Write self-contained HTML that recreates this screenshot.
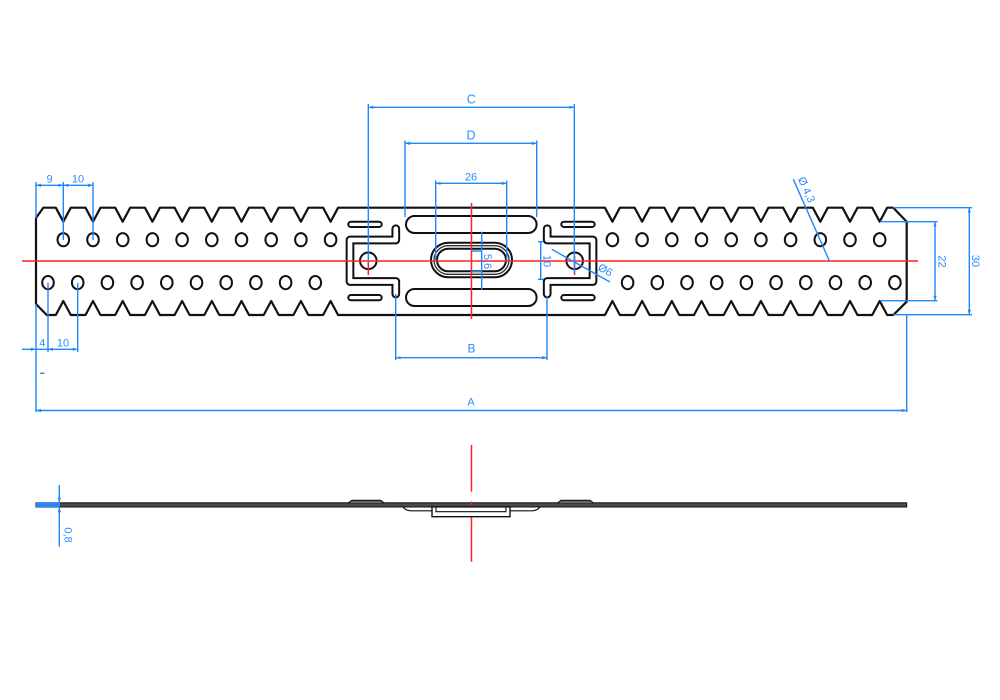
<!DOCTYPE html>
<html><head><meta charset="utf-8">
<style>
html,body{margin:0;padding:0;background:#fff;}
svg{display:block;}
text{font-family:"Liberation Sans",sans-serif;fill:#2b8cff;font-size:11px;}
</style></head>
<body>
<svg width="1000" height="700" viewBox="0 0 1000 700" xmlns="http://www.w3.org/2000/svg">
<defs>
<marker id="ar" viewBox="0 0 6 4" refX="6" refY="2" markerWidth="5" markerHeight="3.4" markerUnits="userSpaceOnUse" orient="auto-start-reverse"><path d="M0,0 L6,2 L0,4 Z" fill="#1e88ff"/></marker>
<g id="lgrp">
<rect x="348.3" y="221.7" width="33.4" height="5.3" rx="2.65" fill="#fff" stroke="#111" stroke-width="2"/>
<rect x="348.3" y="295" width="33.4" height="5.3" rx="2.65" fill="#fff" stroke="#111" stroke-width="2"/>
<path d="M395.8,228.7 L395.8,240 L350,240 L350,281.5 L395.8,281.5 L395.8,294" fill="none" stroke="#111" stroke-width="8.7" stroke-linecap="round" stroke-linejoin="round"/>
<path d="M395.8,228.7 L395.8,240 L350,240 L350,281.5 L395.8,281.5 L395.8,294" fill="none" stroke="#fff" stroke-width="4.7" stroke-linecap="round" stroke-linejoin="round"/>
<circle cx="368.3" cy="260.8" r="8.3" fill="#fff" stroke="#111" stroke-width="2"/>
</g>
</defs>

<path fill="#fff" stroke="#111" stroke-width="2.2" stroke-linejoin="round" d="M36,218 L43.3,207.7 L55.8,207.7 L63.3,221.7 L70.8,207.7 L85.5,207.7 L93,221.7 L100.5,207.7 L115.2,207.7 L122.7,221.7 L130.2,207.7 L144.9,207.7 L152.4,221.7 L159.9,207.7 L174.6,207.7 L182.1,221.7 L189.6,207.7 L204.3,207.7 L211.8,221.7 L219.3,207.7 L234,207.7 L241.5,221.7 L249,207.7 L263.7,207.7 L271.2,221.7 L278.7,207.7 L293.4,207.7 L300.9,221.7 L308.4,207.7 L323.1,207.7 L330.6,221.7 L338.1,207.7 L604.9,207.7 L612.4,221.7 L619.9,207.7 L634.6,207.7 L642.1,221.7 L649.6,207.7 L664.3,207.7 L671.8,221.7 L679.3,207.7 L694,207.7 L701.5,221.7 L709,207.7 L723.7,207.7 L731.2,221.7 L738.7,207.7 L753.4,207.7 L760.9,221.7 L768.4,207.7 L783.1,207.7 L790.6,221.7 L798.1,207.7 L812.8,207.7 L820.3,221.7 L827.8,207.7 L842.5,207.7 L850,221.7 L857.5,207.7 L872.2,207.7 L879.7,221.7 L887.2,207.7 L893.3,207.7 L906.7,221.7 L906.7,301.7 L893.3,315 L887.2,315 L879.7,301 L872.2,315 L857.5,315 L850,301 L842.5,315 L827.8,315 L820.3,301 L812.8,315 L798.1,315 L790.6,301 L783.1,315 L768.4,315 L760.9,301 L753.4,315 L738.7,315 L731.2,301 L723.7,315 L709,315 L701.5,301 L694,315 L679.3,315 L671.8,301 L664.3,315 L649.6,315 L642.1,301 L634.6,315 L619.9,315 L612.4,301 L604.9,315 L338.1,315 L330.6,301 L323.1,315 L308.4,315 L300.9,301 L293.4,315 L278.7,315 L271.2,301 L263.7,315 L249,315 L241.5,301 L234,315 L219.3,315 L211.8,301 L204.3,315 L189.6,315 L182.1,301 L174.6,315 L159.9,315 L152.4,301 L144.9,315 L130.2,315 L122.7,301 L115.2,315 L100.5,315 L93,301 L85.5,315 L70.8,315 L63.3,301 L55.8,315 L46.7,315 L36,304 Z"/>

<g fill="#fff" stroke="#111" stroke-width="2">
<ellipse cx="63.3" cy="239.7" rx="5.8" ry="6.6"/>
<ellipse cx="93" cy="239.7" rx="5.8" ry="6.6"/>
<ellipse cx="122.7" cy="239.7" rx="5.8" ry="6.6"/>
<ellipse cx="152.4" cy="239.7" rx="5.8" ry="6.6"/>
<ellipse cx="182.1" cy="239.7" rx="5.8" ry="6.6"/>
<ellipse cx="211.8" cy="239.7" rx="5.8" ry="6.6"/>
<ellipse cx="241.5" cy="239.7" rx="5.8" ry="6.6"/>
<ellipse cx="271.2" cy="239.7" rx="5.8" ry="6.6"/>
<ellipse cx="300.9" cy="239.7" rx="5.8" ry="6.6"/>
<ellipse cx="330.6" cy="239.7" rx="5.8" ry="6.6"/>
<ellipse cx="612.4" cy="239.7" rx="5.8" ry="6.6"/>
<ellipse cx="642.1" cy="239.7" rx="5.8" ry="6.6"/>
<ellipse cx="671.8" cy="239.7" rx="5.8" ry="6.6"/>
<ellipse cx="701.5" cy="239.7" rx="5.8" ry="6.6"/>
<ellipse cx="731.2" cy="239.7" rx="5.8" ry="6.6"/>
<ellipse cx="760.9" cy="239.7" rx="5.8" ry="6.6"/>
<ellipse cx="790.6" cy="239.7" rx="5.8" ry="6.6"/>
<ellipse cx="820.3" cy="239.7" rx="5.8" ry="6.6"/>
<ellipse cx="850" cy="239.7" rx="5.8" ry="6.6"/>
<ellipse cx="879.7" cy="239.7" rx="5.8" ry="6.6"/>
<ellipse cx="48" cy="282.6" rx="5.8" ry="6.6"/>
<ellipse cx="77.7" cy="282.6" rx="5.8" ry="6.6"/>
<ellipse cx="107.4" cy="282.6" rx="5.8" ry="6.6"/>
<ellipse cx="137.1" cy="282.6" rx="5.8" ry="6.6"/>
<ellipse cx="166.8" cy="282.6" rx="5.8" ry="6.6"/>
<ellipse cx="196.5" cy="282.6" rx="5.8" ry="6.6"/>
<ellipse cx="226.2" cy="282.6" rx="5.8" ry="6.6"/>
<ellipse cx="255.9" cy="282.6" rx="5.8" ry="6.6"/>
<ellipse cx="285.6" cy="282.6" rx="5.8" ry="6.6"/>
<ellipse cx="315.3" cy="282.6" rx="5.8" ry="6.6"/>
<ellipse cx="627.6" cy="282.6" rx="5.8" ry="6.6"/>
<ellipse cx="657.3" cy="282.6" rx="5.8" ry="6.6"/>
<ellipse cx="687" cy="282.6" rx="5.8" ry="6.6"/>
<ellipse cx="716.7" cy="282.6" rx="5.8" ry="6.6"/>
<ellipse cx="746.4" cy="282.6" rx="5.8" ry="6.6"/>
<ellipse cx="776.1" cy="282.6" rx="5.8" ry="6.6"/>
<ellipse cx="805.8" cy="282.6" rx="5.8" ry="6.6"/>
<ellipse cx="835.5" cy="282.6" rx="5.8" ry="6.6"/>
<ellipse cx="865.2" cy="282.6" rx="5.8" ry="6.6"/>
<ellipse cx="894.9" cy="282.6" rx="5.8" ry="6.6"/>
</g>

<use href="#lgrp"/>
<g transform="translate(943,0) scale(-1,1)"><use href="#lgrp"/></g>
<g fill="#fff" stroke="#111" stroke-width="2">
<rect x="406" y="216" width="130.6" height="17" rx="8.5"/>
<rect x="406" y="289" width="130.6" height="17" rx="8.5"/>
<rect x="431" y="242.7" width="81" height="34.6" rx="17.3"/>
<rect x="434" y="245.7" width="75" height="28.6" rx="14.3" stroke-width="1.3" stroke="#333"/>
<rect x="437" y="248.7" width="69" height="22.6" rx="11.3"/>
</g>

<g stroke="#ff2020" stroke-width="1.5">
<line x1="22" y1="261" x2="918" y2="261"/>
<line x1="471.5" y1="203" x2="471.5" y2="319"/>
<line x1="368.3" y1="261" x2="368.3" y2="275"/>
<line x1="574.6" y1="256" x2="574.6" y2="275"/>
<line x1="471.5" y1="445" x2="471.5" y2="491.7"/>
<line x1="471.5" y1="515" x2="471.5" y2="561.7"/>
</g>

<g stroke="#1e88ff" stroke-width="1.4" fill="none">
<line x1="36" y1="182" x2="36" y2="218"/>
<line x1="63.3" y1="182" x2="63.3" y2="240"/>
<line x1="93" y1="182" x2="93" y2="240"/>
<line x1="36" y1="185.3" x2="63.3" y2="185.3" marker-start="url(#ar)" marker-end="url(#ar)"/>
<line x1="63.3" y1="185.3" x2="93" y2="185.3" marker-start="url(#ar)" marker-end="url(#ar)"/>
<line x1="36" y1="304" x2="36" y2="412"/>
<line x1="48" y1="283" x2="48" y2="352"/>
<line x1="77.7" y1="283" x2="77.7" y2="352"/>
<line x1="22" y1="349.3" x2="36" y2="349.3" marker-end="url(#ar)"/>
<line x1="36" y1="349.3" x2="48" y2="349.3"/>
<line x1="48" y1="349.3" x2="77.7" y2="349.3" marker-start="url(#ar)" marker-end="url(#ar)"/>
<line x1="40" y1="373.3" x2="44.5" y2="373.3"/>
<line x1="36" y1="410.5" x2="906.7" y2="410.5" marker-start="url(#ar)" marker-end="url(#ar)"/>
<line x1="906.7" y1="315" x2="906.7" y2="412"/>
<line x1="368.3" y1="104" x2="368.3" y2="262"/>
<line x1="574.3" y1="104" x2="574.3" y2="273"/>
<line x1="368.3" y1="107.3" x2="574.3" y2="107.3" marker-start="url(#ar)" marker-end="url(#ar)"/>
<line x1="405" y1="140.5" x2="405" y2="217"/>
<line x1="536.7" y1="140.5" x2="536.7" y2="217"/>
<line x1="405" y1="143.3" x2="536.7" y2="143.3" marker-start="url(#ar)" marker-end="url(#ar)"/>
<line x1="435.7" y1="180.5" x2="435.7" y2="261"/>
<line x1="506.7" y1="180.5" x2="506.7" y2="261"/>
<line x1="435.7" y1="183.3" x2="506.7" y2="183.3" marker-start="url(#ar)" marker-end="url(#ar)"/>
<line x1="395.7" y1="294" x2="395.7" y2="360"/>
<line x1="547" y1="296" x2="547" y2="360"/>
<line x1="395.7" y1="357.7" x2="547" y2="357.7" marker-start="url(#ar)" marker-end="url(#ar)"/>
<line x1="481.7" y1="231.7" x2="481.7" y2="290"/>
<line x1="471.5" y1="251" x2="481.7" y2="251"/>
<line x1="471.5" y1="271.5" x2="481.7" y2="271.5"/>
<line x1="540.7" y1="241.7" x2="540.7" y2="279.3"/>
<line x1="538" y1="241.7" x2="543.5" y2="241.7"/>
<line x1="538" y1="279.3" x2="543.5" y2="279.3"/>
<line x1="551.7" y1="249.3" x2="610" y2="282"/>
<line x1="793.3" y1="179.3" x2="829.3" y2="260.7"/>
<line x1="880" y1="221.7" x2="937.5" y2="221.7"/>
<line x1="880" y1="300.7" x2="937.5" y2="300.7"/>
<line x1="935" y1="221.7" x2="935" y2="300.7" marker-start="url(#ar)" marker-end="url(#ar)"/>
<line x1="893" y1="207.7" x2="972" y2="207.7"/>
<line x1="893" y1="314.7" x2="972" y2="314.7"/>
<line x1="969.3" y1="207.7" x2="969.3" y2="314.7" marker-start="url(#ar)" marker-end="url(#ar)"/>
</g>

<text x="471.3" y="103.3" text-anchor="middle" style="font-size:12.5px">C</text>
<text x="471" y="139.3" text-anchor="middle" style="font-size:12.5px">D</text>
<text x="471" y="180.5" text-anchor="middle">26</text>
<text x="49.5" y="182.5" text-anchor="middle">9</text>
<text x="78" y="182.5" text-anchor="middle">10</text>
<text x="42.3" y="346.7" text-anchor="middle">4</text>
<text x="63" y="346.7" text-anchor="middle">10</text>
<text x="471" y="405.5" text-anchor="middle">A</text>
<text x="471.5" y="352.7" text-anchor="middle" style="font-size:12px">B</text>
<text transform="translate(941.5,261.5) rotate(90)" text-anchor="middle" dominant-baseline="central">22</text>
<text transform="translate(975,261) rotate(90)" text-anchor="middle" dominant-baseline="central">30</text>
<text transform="translate(487,261.5) rotate(90)" text-anchor="middle" dominant-baseline="central">5,6</text>
<text transform="translate(546.5,261) rotate(90)" text-anchor="middle" dominant-baseline="central">10</text>
<text transform="translate(806,190) rotate(66)" text-anchor="middle" dominant-baseline="central">Ø 4,3</text>
<text transform="translate(605,270.5) rotate(29)" text-anchor="middle" dominant-baseline="central">Ø6</text>

<rect x="36" y="502.8" width="870.7" height="4.2" fill="#4a4a4a" stroke="#111" stroke-width="1"/>
<path d="M348.3,503 L352,500.3 L380.5,500.3 L384,503" fill="#666" stroke="#111" stroke-width="1.2"/>
<path d="M557.7,503 L561,500.3 L590,500.3 L593.3,503" fill="#666" stroke="#111" stroke-width="1.2"/>
<path d="M403,507 Q406,510.8 411,510.8 L532,510.8 Q537,510.8 540,507" fill="none" stroke="#111" stroke-width="1.2"/>
<rect x="432" y="506.9" width="78" height="9.8" fill="#fff" stroke="#111" stroke-width="1.4"/>
<path d="M436,507 L436,511.7 L506,511.7 L506,507" fill="none" stroke="#111" stroke-width="1.1"/>
<line x1="471.5" y1="501.5" x2="471.5" y2="505" stroke="#ff2020" stroke-width="1.5"/>

<rect x="36" y="502.6" width="24" height="4.6" fill="#1e88ff"/>
<line x1="59.3" y1="485" x2="59.3" y2="502.6" stroke="#1e88ff" stroke-width="1.4" marker-end="url(#ar)"/>
<line x1="59.3" y1="507.3" x2="59.3" y2="546.7" stroke="#1e88ff" stroke-width="1.4" marker-start="url(#ar)"/>
<text transform="translate(67.5,535) rotate(90)" text-anchor="middle" dominant-baseline="central">0,8</text>
</svg>
</body></html>
